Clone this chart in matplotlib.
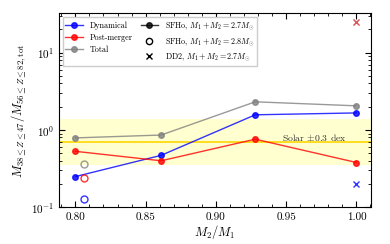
import numpy as np
import matplotlib
matplotlib.use("Agg")
import matplotlib.pyplot as plt
from matplotlib.lines import Line2D

plt.rcParams['font.family'] = ['cmr10', 'DejaVu Serif']
plt.rcParams['mathtext.fontset'] = 'cm'
plt.rcParams['axes.formatter.use_mathtext'] = True

# SFHo, M1+M2=2.7 Msun
q = [0.800, 0.861, 0.928, 1.000]
dyn = [0.25, 0.47, 1.57, 1.66]
post = [0.53, 0.40, 0.76, 0.38]
total = [0.79, 0.86, 2.31, 2.05]

# SFHo, M1+M2=2.8 Msun
q_28 = [0.806]
dyn_28 = [0.127]
post_28 = [0.24]
total_28 = [0.36]

# DD2, M1+M2=2.7 Msun
q_dd2 = [1.0]
dyn_dd2 = [0.20]
post_dd2 = [25.0]
total_dd2 = [25.0]

solar = 0.70
solar_dex = 0.3

fig, ax = plt.subplots(figsize=(3.9, 2.44), dpi=100)
fig.subplots_adjust(left=0.15, right=0.95, bottom=0.15, top=0.945)

ax.axhspan(solar * 10**-solar_dex, solar * 10**solar_dex, color='#ffffb0', alpha=0.6, lw=0, zorder=0)
ax.axhline(solar, color='#ffd700', lw=1.2, zorder=1)
ax.text(0.993, solar * 0.96, r'Solar $\pm0.3$ dex', ha='right', va='bottom', fontsize=7, color='#333333')

for y, c in [(dyn, 'blue'), (post, 'red'), (total, 'gray')]:
    ax.plot(q, y, '-o', color=c, lw=1, ms=4, alpha=0.8, zorder=3)

for y, c in [(dyn_28, 'blue'), (post_28, 'red'), (total_28, 'gray')]:
    ax.plot(q_28, y, 'o', mfc='none', mec=c, ms=5, mew=1, alpha=0.8, zorder=3)

ax.plot(q_dd2, total_dd2, 'x', color='gray', ms=4.5, mew=1, alpha=0.6, zorder=3)
ax.plot(q_dd2, post_dd2, 'x', color='red', ms=4.5, mew=1, alpha=0.5, zorder=3)
ax.plot(q_dd2, dyn_dd2, 'x', color='blue', ms=4.5, mew=1, alpha=0.8, zorder=3)

ax.set_yscale('log')
ax.set_xlim(0.788, 1.01)
ax.set_ylim(0.1, 32)
ax.set_xlabel(r'$M_2/M_1$', fontsize=9, labelpad=1)
ax.set_ylabel(r'$M_{38\leq Z\leq 47}/M_{56\leq Z\leq 82,\rm tot}$', fontsize=9, labelpad=2)
ax.set_xticks([0.80, 0.85, 0.90, 0.95, 1.00])
ax.set_xticklabels(['0.80', '0.85', '0.90', '0.95', '1.00'])
ax.minorticks_on()
ax.tick_params(which='both', direction='in', top=True, right=True, labelsize=8)
ax.tick_params(which='major', length=4)
ax.tick_params(which='minor', length=2)

handles = [
    Line2D([], [], color='blue', marker='o', ms=4, lw=1, alpha=0.8),
    Line2D([], [], color='red', marker='o', ms=4, lw=1, alpha=0.8),
    Line2D([], [], color='gray', marker='o', ms=4, lw=1, alpha=0.8),
    Line2D([], [], color='black', marker='o', ms=4, lw=1, alpha=0.8),
    Line2D([], [], color='black', marker='o', ms=4.5, lw=0, mfc='none'),
    Line2D([], [], color='black', marker='x', ms=4.5, lw=0),
]
labels = ['Dynamical', 'Post-merger', 'Total',
          r'SFHo, $M_1+M_2=2.7M_{\odot}$',
          r'SFHo, $M_1+M_2=2.8M_{\odot}$',
          r'DD2, $M_1+M_2=2.7M_{\odot}$']
ax.legend(handles, labels, ncol=2, fontsize=5.8, loc='upper left',
          frameon=True, fancybox=False, edgecolor='#cccccc', framealpha=1,
          handlelength=2.2, columnspacing=1.0, labelspacing=0.45, borderpad=0.35)

plt.savefig('out.png', dpi=100)
